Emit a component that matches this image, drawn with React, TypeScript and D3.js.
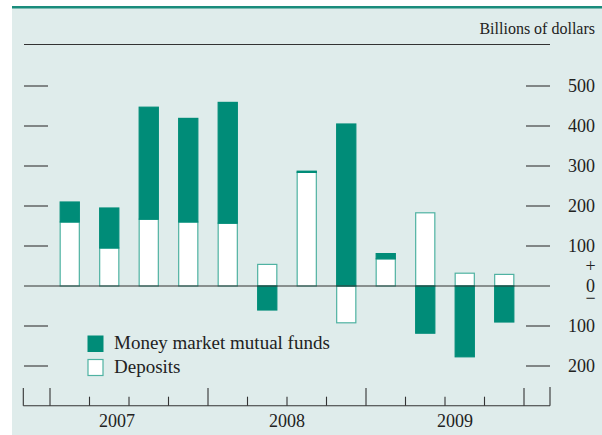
import React from "react";
import * as d3 from "d3";

const quarters = ["2007Q1","2007Q2","2007Q3","2007Q4","2008Q1","2008Q2","2008Q3","2008Q4","2009Q1","2009Q2","2009Q3","2009Q4"];
const deposits = [160, 95, 167, 160, 157, 54, 284, -92, 68, 183, 32, 29];
const mmf = [50, 100, 280, 259, 302, -60, 3, 405, 13, -118, -177, -90];
const years = ["2007", "2008", "2009"];
const yearLabelShift = [-12, 0, 10];
const yTicks = [500, 400, 300, 200, 100, 0, -100, -200];
const yTickLabels = ["500", "400", "300", "200", "100", "0", "100", "200"];
const seriesNames = ["Money market mutual funds", "Deposits"];

const W = 602, H = 435;
const FONT = "'Liberation Serif', 'Times New Roman', serif";
const TEAL = "#008c78";
const EDGE = "#4fb2a2";
const BG = "#dfeceb";
const INK = "#222";

export default function App() {
  const x = d3.scaleBand<string>().domain(quarters).range([50, 524]).paddingInner(0.49).paddingOuter(0.245);
  const y = d3.scaleLinear().domain([-200, 500]).range([366, 86]);
  const rows = quarters.map((q, i) => ({ q, deposits: deposits[i], mmf: mmf[i] }));
  const stack = d3.stack<any>().keys(["deposits", "mmf"]).offset(d3.stackOffsetDiverging);
  const series = stack(rows);
  const step = x.step();
  const x0 = x(quarters[0])! - (step - x.bandwidth()) / 2;
  const boundaries = d3.range(quarters.length + 1).map((k) => x0 + k * step);
  const axisY = 405.7;
  const zeroY = y(0);

  return (
    <svg width={W} height={H} style={{ position: "absolute", left: 0, top: 0 }} fontFamily={FONT}>
      <rect x={12} y={6} width={W - 12} height={H - 6} fill={BG} />
      <line x1={12} x2={W} y1={7.3} y2={7.3} stroke="#1a8c7c" strokeWidth={2.6} />
      <text x={595} y={34} textAnchor="end" fontSize={16} fill={INK}>Billions of dollars</text>
      <line x1={24} x2={550} y1={44.5} y2={44.5} stroke="#333" strokeWidth={1.2} />

      {yTicks.filter((t) => t !== 0).map((t) => (
        <g key={t}>
          <line x1={24} x2={48} y1={y(t)} y2={y(t)} stroke="#333" strokeWidth={1.1} />
          <line x1={526} x2={550} y1={y(t)} y2={y(t)} stroke="#333" strokeWidth={1.1} />
        </g>
      ))}
      {yTicks.map((t, i) =>
        t === 0 ? (
          <text key={"l0"} fontSize={18} fill={INK} textAnchor="middle">
            <tspan x={590.5} y={zeroY - 14.5}>+</tspan>
            <tspan x={590.5} y={zeroY + 6.3}>{yTickLabels[i]}</tspan>
            <tspan x={590.5} y={zeroY + 17.5}>−</tspan>
          </text>
        ) : (
          <text key={"l" + t} x={595} y={y(t)} dy="0.35em" textAnchor="end" fontSize={18} fill={INK}>{yTickLabels[i]}</text>
        )
      )}

      {series.map((s) =>
        s.map((d, i) => {
          const isMmf = s.key === "mmf";
          const top = y(Math.max(d[0], d[1]));
          const bot = y(Math.min(d[0], d[1]));
          if (bot - top <= 0) return null;
          return (
            <rect
              key={s.key + i}
              x={x(quarters[i])! + 0.5}
              y={top}
              width={x.bandwidth() - 1}
              height={bot - top}
              fill={isMmf ? TEAL : "#fff"}
              stroke={isMmf ? TEAL : EDGE}
              strokeWidth={1.2}
            />
          );
        })
      )}

      <line x1={24} x2={550} y1={zeroY} y2={zeroY} stroke="#333" strokeWidth={1.2} />

      <line x1={23.3} x2={550} y1={axisY} y2={axisY} stroke="#333" strokeWidth={1.1} />
      <line x1={23.3} x2={23.3} y1={388} y2={axisY} stroke="#333" strokeWidth={1.1} />
      <line x1={550} x2={550} y1={387} y2={axisY} stroke="#333" strokeWidth={1.1} />
      {boundaries.map((bx, k) => (
        <line key={"b" + k} x1={bx} x2={bx} y1={k % 4 === 0 ? 388 : 396.7} y2={axisY} stroke="#333" strokeWidth={1.1} />
      ))}
      {years.map((yr, i) => {
        const cx = (boundaries[i * 4] + boundaries[i * 4 + 4]) / 2 + yearLabelShift[i];
        return (
          <text key={yr} x={cx} y={427} textAnchor="middle" fontSize={18} fill={INK}>{yr}</text>
        );
      })}

      <rect x={88} y={336} width={15} height={15.5} fill={TEAL} stroke={TEAL} strokeWidth={1} />
      <text x={114} y={349} fontSize={19} fill={INK}>{seriesNames[0]}</text>
      <rect x={88} y={359.5} width={15} height={16} fill="#fff" stroke={EDGE} strokeWidth={1.2} />
      <text x={114} y={373} fontSize={19} fill={INK}>{seriesNames[1]}</text>
    </svg>
  );
}
